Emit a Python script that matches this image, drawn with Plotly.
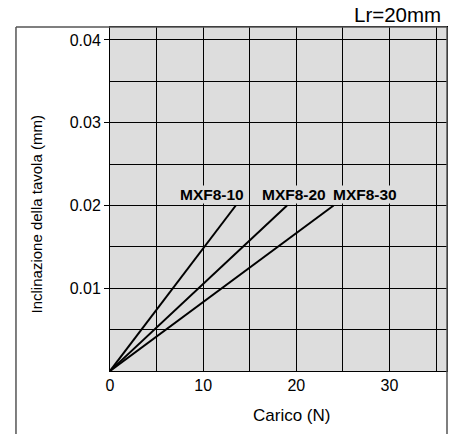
import plotly.graph_objects as go

# Data
series_names = ["MXF8-10", "MXF8-20", "MXF8-30"]
load_start = [0, 0, 0]
load_end = [13.5, 19.0, 24.0]
tilt_start = [0, 0, 0]
tilt_end = [0.02, 0.02, 0.02]
label_x = [11.0, 19.7, 27.4]
x_tickvals = [0, 10, 20, 30]
x_ticktext = ["0", "10", "20", "30"]
y_tickvals = [0.01, 0.02, 0.03, 0.04]
y_ticktext = ["0.01", "0.02", "0.03", "0.04"]

FONT = "Liberation Sans, Arial, Helvetica, sans-serif"
BG = "#dddddd"

fig = go.Figure()
for i, name in enumerate(series_names):
    fig.add_trace(go.Scatter(
        x=[load_start[i], load_end[i]],
        y=[tilt_start[i], tilt_end[i]],
        mode="lines", name=name,
        line=dict(color="black", width=2),
        showlegend=False, hoverinfo="skip"))
    fig.add_annotation(x=label_x[i], y=tilt_end[i], xref="x", yref="y",
                       text="<b>%s</b>" % name, showarrow=False,
                       xanchor="center", yanchor="bottom", yshift=2,
                       bgcolor=BG, borderpad=0,
                       font=dict(size=15.5, color="black", family=FONT))

fig.update_layout(
    width=457, height=434,
    margin=dict(l=110, r=10, t=27, b=63),
    paper_bgcolor="white", plot_bgcolor=BG,
    font=dict(family=FONT, size=16, color="black"),
    xaxis=dict(range=[0, 36.17], tickvals=x_tickvals, ticktext=x_ticktext,
               showgrid=True, gridcolor="black", gridwidth=1,
               minor=dict(dtick=5, tick0=0, showgrid=True, gridcolor="black", gridwidth=1),
               zeroline=False, showline=True, linecolor="black", linewidth=1, mirror=True,
               ticks="", tickfont=dict(size=16), automargin=False),
    yaxis=dict(range=[0, 0.04157], tickvals=y_tickvals, ticktext=y_ticktext,
               showgrid=True, gridcolor="black", gridwidth=1,
               minor=dict(dtick=0.005, tick0=0, showgrid=True, gridcolor="black", gridwidth=1),
               zeroline=False, showline=True, linecolor="black", linewidth=1, mirror=True,
               ticks="outside", ticklen=5, tickcolor="black", tickfont=dict(size=16),
               automargin=False),
)

# Axis titles and header text
fig.add_annotation(text="Carico (N)", x=0.540, y=-0.128, xref="paper", yref="paper",
                   showarrow=False, xanchor="center", yanchor="middle",
                   font=dict(size=17, family=FONT))
fig.add_annotation(text="Inclinazione della tavola (mm)", x=-0.2196, y=0.455,
                   xref="paper", yref="paper", textangle=-90, showarrow=False,
                   xanchor="center", yanchor="middle", font=dict(size=15, family=FONT))
fig.add_annotation(text="Lr=20mm", x=0.988, y=1.035, xref="paper", yref="paper",
                   showarrow=False, xanchor="right", yanchor="middle",
                   font=dict(size=20.5, family=FONT))

# Outer frame
frame = dict(color="#555555", width=1.5)
fig.add_shape(type="line", xref="paper", yref="paper", x0=-0.279, x1=-0.279, y0=-0.183, y1=1, line=frame)
fig.add_shape(type="line", xref="paper", yref="paper", x0=-0.279, x1=1, y0=1, y1=1, line=frame)
fig.add_shape(type="line", xref="paper", yref="paper", x0=1, x1=1, y0=-0.183, y1=1, line=frame)

fig.write_html("out.html", config={"displayModeBar": False},
               post_script="document.body.style.margin='0';document.body.style.overflow='hidden';")
